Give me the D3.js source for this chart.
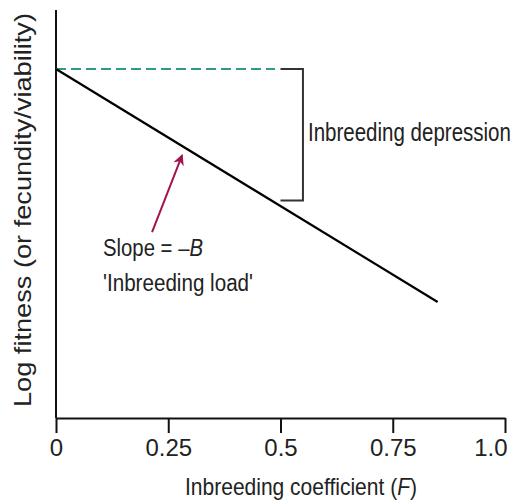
<!DOCTYPE html>
<html>
<head>
<meta charset="utf-8">
<script src="https://cdn.jsdelivr.net/npm/d3@7"></script>
<style>
  body { margin: 0; background: #fff; }
  text { font-family: "Liberation Sans Narrow", "Arial Narrow", "Liberation Sans", Arial, sans-serif; fill: #222; }
</style>
</head>
<body>
<div id="container1"></div>
<script>
// data
const fValues = [0, 0.85];
const logFitness = [0, -0.85];          // slope = -B, B = 1
const xTicks = [0, 0.25, 0.5, 0.75, 1.0];
const xTickLabels = ["0", "0.25", "0.5", "0.75", "1.0"];
const refF = [0, 0.488];                // dashed outbred reference
const bracketF = [0.5, 0.55];
const bracketLog = [0, -0.48];
const arrowF = [0.214, 0.281];
const arrowLog = [-0.595, -0.314];

const w = 519;
const h = 502;

const svg = d3.select("#container1")
    .append("svg")
    .attr("width", w)
    .attr("height", h);

const xScale = d3.scaleLinear()
    .domain([0, 1])
    .range([56, 505]);

const yScale = d3.scaleLinear()
    .domain([-1.273, 0.215])
    .range([418, 10]);

// y axis (plain line, no ticks)
svg.append("line")
    .attr("x1", xScale(0)).attr("x2", xScale(0))
    .attr("y1", yScale.range()[1]).attr("y2", yScale.range()[0])
    .attr("stroke", "#111").attr("stroke-width", 2);

// x axis
const xAxis = d3.axisBottom(xScale)
    .tickValues(xTicks)
    .tickFormat((d, i) => xTickLabels[i])
    .tickSizeInner(15)
    .tickSizeOuter(0)
    .tickPadding(6);

const gx = svg.append("g")
    .attr("transform", `translate(0,${yScale.range()[0]})`)
    .call(xAxis);

gx.select(".domain").attr("stroke", "#111").attr("stroke-width", 2);
gx.selectAll(".tick line").attr("stroke", "#111").attr("stroke-width", 2);
gx.selectAll(".tick text")
    .attr("font-size", 24)
    .attr("fill", "#222")
    .style("font-family", '"Liberation Sans Narrow", "Arial Narrow", "Liberation Sans", Arial, sans-serif');

// last label sits inside the frame
gx.selectAll(".tick text")
    .filter(d => d === 1)
    .attr("text-anchor", "end")
    .attr("x", 2);

// dashed reference line
svg.append("line")
    .attr("x1", xScale(refF[0])).attr("x2", xScale(refF[1]))
    .attr("y1", yScale(0)).attr("y2", yScale(0))
    .attr("stroke", "#2e9a8a")
    .attr("stroke-width", 2)
    .attr("stroke-dasharray", "10,5");

// fitness line
const line = d3.line()
    .x(d => xScale(d[0]))
    .y(d => yScale(d[1]));

svg.append("path")
    .datum(fValues.map((f, i) => [f, logFitness[i]]))
    .attr("d", line)
    .attr("fill", "none")
    .attr("stroke", "#000")
    .attr("stroke-width", 2.2);

// bracket
svg.append("path")
    .attr("d", `M${xScale(bracketF[0])},${yScale(bracketLog[0])}H${xScale(bracketF[1])}V${yScale(bracketLog[1])}H${xScale(bracketF[0])}`)
    .attr("fill", "none")
    .attr("stroke", "#333")
    .attr("stroke-width", 2);

svg.append("text")
    .attr("x", xScale(bracketF[1]) + 5)
    .attr("y", 141)
    .attr("font-size", 25)
    .attr("textLength", 203)
    .attr("lengthAdjust", "spacingAndGlyphs")
    .text("Inbreeding depression");

// arrow
svg.append("defs").append("marker")
    .attr("id", "head")
    .attr("viewBox", "0 0 10 10")
    .attr("refX", 9).attr("refY", 5)
    .attr("markerWidth", 11).attr("markerHeight", 11)
    .attr("markerUnits", "userSpaceOnUse")
    .attr("orient", "auto")
    .append("path")
    .attr("d", "M0,0L10,5L0,10L3,5Z")
    .attr("fill", "#a3134f");

svg.append("line")
    .attr("x1", xScale(arrowF[0])).attr("y1", yScale(arrowLog[0]))
    .attr("x2", xScale(arrowF[1])).attr("y2", yScale(arrowLog[1]))
    .attr("stroke", "#a3134f")
    .attr("stroke-width", 2)
    .attr("marker-end", "url(#head)");

// slope labels
const slope = svg.append("text")
    .attr("x", 103)
    .attr("y", 256)
    .attr("font-size", 23)
    .attr("textLength", 100)
    .attr("lengthAdjust", "spacingAndGlyphs");
slope.append("tspan").text("Slope = \u2013");
slope.append("tspan").attr("font-style", "italic").text("B");

svg.append("text")
    .attr("x", 103)
    .attr("y", 291)
    .attr("font-size", 23)
    .attr("textLength", 150)
    .attr("lengthAdjust", "spacingAndGlyphs")
    .text("'Inbreeding load'");

// axis titles
const xt = svg.append("text")
    .attr("x", 185)
    .attr("y", 495)
    .attr("font-size", 24)
    .attr("textLength", 232)
    .attr("lengthAdjust", "spacingAndGlyphs");
xt.append("tspan").text("Inbreeding coefficient (");
xt.append("tspan").attr("font-style", "italic").text("F");
xt.append("tspan").text(")");

svg.append("text")
    .attr("transform", "translate(31,407) rotate(-90)")
    .attr("x", 0)
    .attr("y", 0)
    .attr("font-size", 24)
    .attr("textLength", 394)
    .attr("lengthAdjust", "spacingAndGlyphs")
    .text("Log fitness (or fecundity/viability)");
</script>
</body>
</html>
